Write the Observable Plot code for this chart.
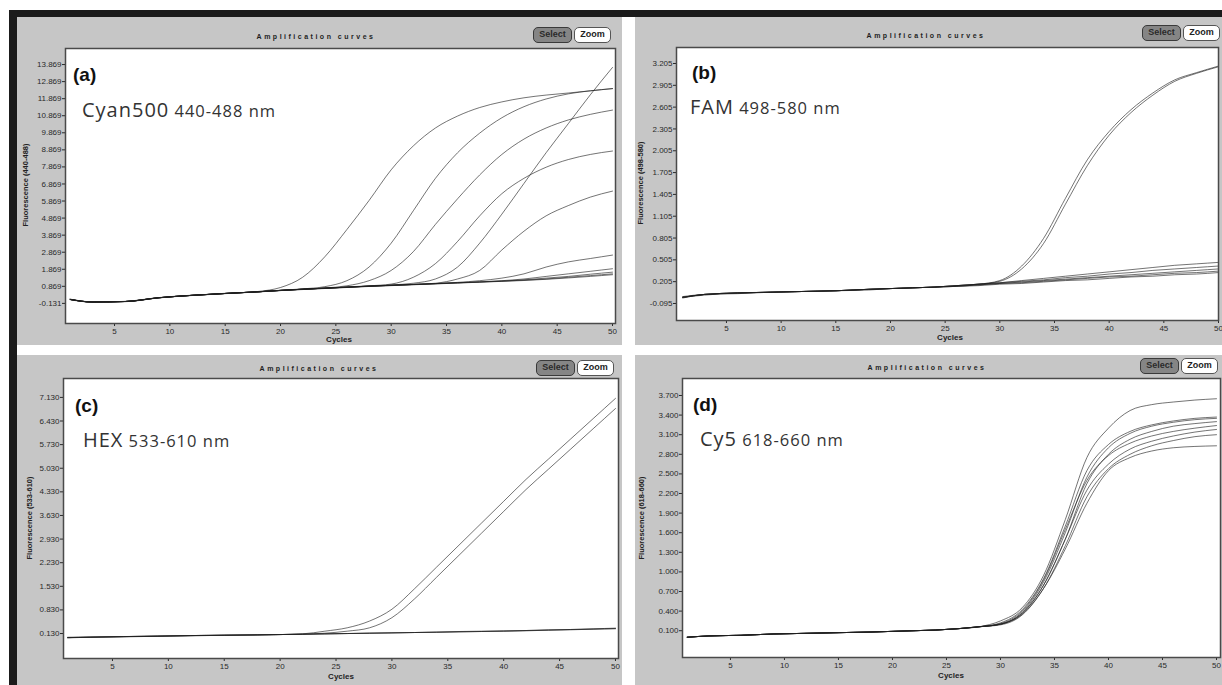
<!DOCTYPE html>
<html><head><meta charset="utf-8">
<script src="https://cdn.jsdelivr.net/npm/d3@7"></script>
<script src="https://cdn.jsdelivr.net/npm/@observablehq/plot@0.6"></script>
<style>
html,body{margin:0;padding:0;background:#fff;}
#page{position:relative;width:1222px;height:685px;overflow:hidden;background:#fff;font-family:"Liberation Sans",Arial,sans-serif;}
.bar{position:absolute;background:#1b1b1b;}
.panel{position:absolute;background:#c6c6c6;overflow:hidden;}
.panel svg{position:absolute;left:0;top:0;}
.title{position:absolute;font-size:7px;font-weight:bold;letter-spacing:2.5px;color:#1e1e1e;white-space:nowrap;transform:translate(-50%,-50%);}
.btn{position:absolute;height:16px;border-radius:5px;font-size:9px;font-weight:bold;line-height:13px;text-align:center;box-sizing:border-box;}
.sel{background:#858585;border:1.5px solid #3a3a3a;color:#2a2a2a;}
.zm{background:#fff;border:1.5px solid #555;color:#222;}
.ylab{position:absolute;font-size:7.5px;font-weight:bold;color:#222;white-space:nowrap;transform:translate(-50%,-50%) rotate(-90deg);}
.xlab{position:absolute;font-size:8px;font-weight:bold;color:#222;transform:translate(-50%,-50%);}
.tag{position:absolute;font-family:Arial,"Liberation Sans",sans-serif;font-weight:bold;font-size:19px;line-height:19px;color:#111;}
.name{position:absolute;font-family:"Open Sans",sans-serif;line-height:20px;color:#333;white-space:nowrap;letter-spacing:1px;}
</style></head>
<body>
<div id="page">
  <div class="bar" style="left:9px;top:10px;width:1213px;height:7px"></div>
  <div class="bar" style="left:9px;top:10px;width:8px;height:675px"></div>
</div>
<script>
// ---------- data ----------
const cycles = [1,3,6,9,12,15,18,20,22,24,26,28,30,32,34,36,38,40,42,44,46,48,50];
const xTicks = [5,10,15,20,25,30,35,40,45,50];

// (a) Cyan500
const aTicks = [13.869,12.869,11.869,10.869,9.869,8.869,7.869,6.869,5.869,4.869,3.869,2.869,1.869,0.869,-0.131];
const a1 = [0.1,-0.05,-0.02,0.2,0.34,0.46,0.57,0.8,1.4,2.6,4.2,5.9,7.7,9.1,10.15,10.85,11.35,11.68,11.92,12.08,12.2,12.33,12.46];
const a2 = [0.1,-0.05,-0.02,0.2,0.34,0.45,0.55,0.64,0.72,0.85,1.2,2.0,3.4,5.3,7.2,8.7,9.85,10.75,11.4,11.85,12.15,12.33,12.46];
const a3 = [0.1,-0.05,-0.02,0.2,0.34,0.45,0.55,0.63,0.7,0.77,0.9,1.2,1.8,2.9,4.5,6.0,7.4,8.6,9.5,10.15,10.62,10.95,11.2];
const a4 = [0.1,-0.05,-0.02,0.2,0.34,0.45,0.55,0.63,0.7,0.76,0.83,0.9,1.0,1.4,2.2,3.5,5.0,6.3,7.2,7.85,8.3,8.6,8.8];
const a5 = [0.1,-0.05,-0.02,0.2,0.34,0.45,0.55,0.63,0.7,0.76,0.82,0.88,0.95,1.05,1.3,2.0,3.4,5.1,6.9,8.7,10.4,12.1,13.7];
const a6 = [0.1,-0.05,-0.02,0.2,0.34,0.45,0.55,0.63,0.7,0.76,0.82,0.88,0.93,0.98,1.05,1.3,1.8,3.0,4.1,5.0,5.6,6.1,6.45];
const a7 = [0.1,-0.05,-0.02,0.2,0.34,0.45,0.55,0.63,0.7,0.76,0.82,0.88,0.93,0.98,1.03,1.1,1.2,1.35,1.6,2.0,2.3,2.5,2.7];
const a8 = [0.1,-0.05,-0.02,0.2,0.34,0.45,0.55,0.63,0.7,0.76,0.82,0.88,0.93,0.98,1.03,1.08,1.13,1.2,1.3,1.45,1.6,1.75,1.9];
const a9 = [0.1,-0.05,-0.02,0.2,0.34,0.45,0.55,0.63,0.7,0.76,0.82,0.88,0.93,0.98,1.03,1.08,1.13,1.18,1.25,1.35,1.45,1.58,1.7];
const a10 = [0.12,-0.04,-0.03,0.19,0.33,0.44,0.54,0.62,0.69,0.75,0.81,0.87,0.92,0.97,1.02,1.07,1.12,1.17,1.23,1.3,1.4,1.5,1.6];
const a11 = [0.08,-0.06,-0.01,0.21,0.35,0.45,0.55,0.62,0.68,0.74,0.8,0.86,0.91,0.96,1.01,1.06,1.11,1.16,1.21,1.28,1.36,1.45,1.55];

// (b) FAM
const bTicks = [3.205,2.905,2.605,2.305,2.005,1.705,1.405,1.105,0.805,0.505,0.205,-0.095];
const b1 = [-0.01,0.03,0.05,0.06,0.07,0.08,0.1,0.11,0.12,0.13,0.15,0.17,0.22,0.42,0.8,1.35,1.88,2.27,2.57,2.8,2.98,3.08,3.17];
const b2 = [-0.01,0.03,0.05,0.06,0.07,0.08,0.1,0.11,0.12,0.13,0.15,0.17,0.21,0.38,0.73,1.27,1.8,2.22,2.53,2.77,2.96,3.07,3.16];
const b3 = [-0.01,0.03,0.05,0.06,0.07,0.08,0.1,0.11,0.12,0.13,0.15,0.17,0.19,0.22,0.25,0.28,0.31,0.34,0.37,0.4,0.43,0.45,0.47];
const b4 = [-0.02,0.03,0.05,0.06,0.07,0.08,0.1,0.11,0.12,0.13,0.15,0.17,0.19,0.21,0.23,0.26,0.28,0.31,0.33,0.36,0.38,0.4,0.42];
const b5 = [-0.01,0.02,0.05,0.06,0.07,0.08,0.1,0.11,0.12,0.13,0.14,0.16,0.18,0.2,0.22,0.24,0.26,0.28,0.3,0.32,0.34,0.36,0.38];
const b6 = [0.0,0.03,0.04,0.06,0.07,0.08,0.09,0.11,0.12,0.13,0.14,0.16,0.18,0.19,0.21,0.23,0.25,0.27,0.28,0.3,0.32,0.33,0.35];
const b7 = [-0.01,0.03,0.05,0.06,0.07,0.08,0.1,0.11,0.12,0.13,0.14,0.15,0.17,0.18,0.2,0.22,0.23,0.25,0.27,0.28,0.3,0.31,0.33];

// (c) HEX
const cTicks = [7.130,6.430,5.730,5.030,4.330,3.630,2.930,2.230,1.530,0.830,0.130];
const c1 = [0.01,0.02,0.04,0.05,0.07,0.08,0.09,0.1,0.12,0.2,0.3,0.5,0.85,1.45,2.1,2.75,3.4,4.05,4.7,5.3,5.9,6.5,7.1];
const c2 = [0.01,0.02,0.04,0.05,0.07,0.08,0.09,0.1,0.11,0.14,0.2,0.3,0.6,1.15,1.8,2.45,3.1,3.75,4.4,5.0,5.6,6.2,6.8];
const c3 = [0.01,0.02,0.04,0.05,0.07,0.08,0.09,0.1,0.11,0.12,0.13,0.14,0.15,0.16,0.17,0.18,0.19,0.2,0.21,0.23,0.24,0.26,0.28];
const c4 = [0.0,0.02,0.03,0.05,0.06,0.08,0.09,0.1,0.11,0.12,0.13,0.14,0.15,0.16,0.17,0.18,0.19,0.2,0.22,0.23,0.25,0.26,0.27];
const c5 = [0.02,0.03,0.04,0.06,0.07,0.08,0.09,0.1,0.11,0.12,0.13,0.14,0.15,0.16,0.17,0.19,0.2,0.21,0.22,0.24,0.25,0.27,0.29];

// (d) Cy5
const dTicks = [3.700,3.400,3.100,2.800,2.500,2.200,1.900,1.600,1.300,1.000,0.700,0.400,0.100];
const d1 = [0.0,0.02,0.03,0.05,0.06,0.07,0.08,0.09,0.1,0.11,0.13,0.16,0.25,0.45,0.95,1.8,2.75,3.2,3.47,3.56,3.6,3.63,3.65];
const d2 = [0.0,0.02,0.03,0.05,0.06,0.07,0.08,0.09,0.1,0.11,0.13,0.16,0.22,0.42,0.9,1.7,2.55,2.95,3.15,3.25,3.31,3.35,3.37];
const d3 = [0.0,0.02,0.03,0.05,0.06,0.07,0.08,0.09,0.1,0.11,0.13,0.16,0.2,0.38,0.85,1.6,2.45,2.9,3.12,3.23,3.29,3.33,3.35];
const d4 = [0.0,0.02,0.03,0.05,0.06,0.07,0.08,0.09,0.1,0.11,0.13,0.16,0.2,0.36,0.8,1.5,2.35,2.8,3.03,3.15,3.23,3.27,3.3];
const d5 = [0.0,0.02,0.03,0.05,0.06,0.07,0.08,0.09,0.1,0.11,0.13,0.16,0.21,0.4,0.88,1.65,2.4,2.78,2.97,3.08,3.15,3.2,3.24];
const d6 = [0.0,0.02,0.03,0.05,0.06,0.07,0.08,0.09,0.1,0.11,0.13,0.16,0.2,0.37,0.8,1.5,2.25,2.65,2.88,3.0,3.08,3.14,3.18];
const d7 = [0.0,0.02,0.03,0.05,0.06,0.07,0.08,0.09,0.1,0.11,0.13,0.16,0.19,0.34,0.75,1.4,2.15,2.58,2.8,2.93,3.01,3.07,3.1];
const d8 = [0.0,0.02,0.03,0.05,0.06,0.07,0.08,0.09,0.1,0.11,0.13,0.16,0.2,0.35,0.75,1.35,2.05,2.55,2.75,2.85,2.9,2.92,2.93];

// ---------- layout ----------
const panels = [
  {key:"a", box:[17,17,605,328], m:[31,7,22,48], x:[0.57,50.27], y:[-1.31,14.81], ticks:aTicks,
   series:{a1,a2,a3,a4,a5,a6,a7,a8,a9,a10,a11}, title:[316,36], btn:[533,27], xlab:[339,339], ylab:[25,185],
   yname:"Fluorescence (440-488)", tag:[73,65], name:[82,99.5], big:"Cyan500", small:"440-488 nm"},
  {key:"b", box:[635,17,587,328], m:[30,4,25,41], x:[0.43,50.0], y:[-0.329,3.425], ticks:bTicks,
   series:{b1,b2,b3,b4,b5,b6,b7}, title:[926,35], btn:[1142,25], xlab:[950,337], ylab:[640,183],
   yname:"Fluorescence (498-580)", tag:[692,63], name:[690,96.5], big:"FAM", small:"498-580 nm"},
  {key:"c", box:[17,355,605,330], m:[23,4,27,46], x:[0.62,50.27], y:[-0.61,7.69], ticks:cTicks,
   series:{c1,c2,c3,c4,c5}, title:[319,368], btn:[536,360], xlab:[341,676], ylab:[29,518],
   yname:"Fluorescence (533-610)", tag:[75,396], name:[83,429.5], big:"HEX", small:"533-610 nm"},
  {key:"d", box:[635,355,587,330], m:[23,2,28,47], x:[0.56,50.37], y:[-0.31,3.96], ticks:dTicks,
   series:{d1,d2,d3,d4,d5,d6,d7,d8}, title:[927,367], btn:[1140,358], xlab:[951,675], ylab:[641,518],
   yname:"Fluorescence (618-660)", tag:[693,395], name:[700,428.5], big:"Cy5", small:"618-660 nm"}
];

const page = document.getElementById("page");
function add(cls, style, html) {
  const el = document.createElement("div");
  el.className = cls;
  Object.assign(el.style, style);
  el.innerHTML = html;
  page.appendChild(el);
  return el;
}
const fmt3 = v => v.toFixed(3);

for (const p of panels) {
  const [bx, by, bw, bh] = p.box;
  const panel = add("panel", {left: bx+"px", top: by+"px", width: bw+"px", height: bh+"px"}, "");
  const rows = [];
  for (const [name, vals] of Object.entries(p.series)) {
    vals.forEach((v, i) => rows.push({series: name, cycle: cycles[i], value: v}));
  }
  const chart = Plot.plot({
    width: bw, height: bh,
    marginTop: p.m[0], marginRight: p.m[1], marginBottom: p.m[2], marginLeft: p.m[3],
    style: {background: "transparent", fontFamily: "'Liberation Sans', Arial, sans-serif", fontSize: "8px", color: "#2a2a2a", overflow: "visible"},
    x: {domain: p.x, ticks: xTicks, tickSize: 3, tickPadding: 2, label: null},
    y: {domain: p.y, ticks: p.ticks, tickFormat: fmt3, tickSize: 3, tickPadding: 1, label: null},
    marks: [
      Plot.frame({fill: "white"}),
      Plot.line(rows, {x: "cycle", y: "value", z: "series", stroke: "#1e1e1e", strokeOpacity: 0.62, strokeWidth: 1, curve: "monotone-x"}),
      Plot.frame({stroke: "#4a4a4a", strokeWidth: 1.5})
    ]
  });
  panel.appendChild(chart);

  add("title", {left: p.title[0]+"px", top: p.title[1]+"px"}, "Amplification curves");
  add("btn sel", {left: p.btn[0]+"px", top: p.btn[1]+"px", width: "39px"}, "Select");
  add("btn zm", {left: (p.btn[0]+41)+"px", top: p.btn[1]+"px", width: "37px"}, "Zoom");
  add("xlab", {left: p.xlab[0]+"px", top: p.xlab[1]+"px"}, "Cycles");
  add("ylab", {left: p.ylab[0]+"px", top: p.ylab[1]+"px"}, p.yname);
  add("tag", {left: p.tag[0]+"px", top: p.tag[1]+"px"}, "(" + p.key + ")");
  add("name", {left: p.name[0]+"px", top: p.name[1]+"px"},
      '<span style="font-size:20px">' + p.big + '</span> <span style="font-size:16.5px">' + p.small + '</span>');
}
</script>
</body></html>
